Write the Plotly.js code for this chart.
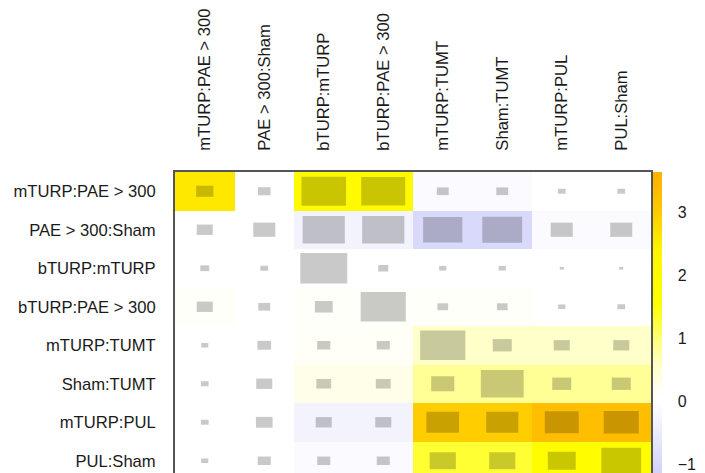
<!DOCTYPE html>
<html>
<head>
<meta charset="utf-8">
<script src="https://cdn.plot.ly/plotly-3.0.1.min.js"></script>
<style>html,body{margin:0;padding:0;background:#fff;}#chart{width:705px;height:473px;}</style>
</head>
<body>
<div id="chart"></div>
<script>
// Row and column labels (same comparisons)
const rowLabels = ["mTURP:PAE > 300", "PAE > 300:Sham", "bTURP:mTURP", "bTURP:PAE > 300",
                   "mTURP:TUMT", "Sham:TUMT", "mTURP:PUL", "PUL:Sham"];
const colLabels = ["mTURP:PAE > 300", "PAE > 300:Sham", "bTURP:mTURP", "bTURP:PAE > 300",
                   "mTURP:TUMT", "Sham:TUMT", "mTURP:PUL", "PUL:Sham"];

// Cell values (colour)
const values = [
  [2.6, 0, 2.0, 2.0, -0.12, -0.12, 0, 0],
  [0, 0, -0.3, -0.3, -0.95, -0.95, -0.1, -0.1],
  [0, 0, 0, 0, 0, 0, 0, 0],
  [0.1, 0, 0.1, 0.1, 0.1, 0.1, 0, 0],
  [0, 0, 0.15, 0.15, 0.55, 0.55, 0.55, 0.55],
  [0, 0, 0.3, 0.3, 0.85, 0.85, 0.85, 0.85],
  [0, 0, -0.3, -0.3, 3.0, 3.0, 3.3, 3.3],
  [0, 0, -0.12, -0.12, 1.3, 1.3, 1.8, 1.8]
];

// Relative size of the grey box inside each cell (fraction of cell)
const boxSize = [
  [0.29, 0.21, 0.75, 0.74, 0.20, 0.20, 0.13, 0.13],
  [0.27, 0.37, 0.71, 0.71, 0.66, 0.67, 0.37, 0.37],
  [0.15, 0.13, 0.79, 0.17, 0.12, 0.12, 0.07, 0.07],
  [0.27, 0.20, 0.30, 0.76, 0.18, 0.18, 0.12, 0.13],
  [0.12, 0.23, 0.22, 0.22, 0.76, 0.32, 0.27, 0.27],
  [0.13, 0.27, 0.25, 0.25, 0.39, 0.72, 0.32, 0.32],
  [0.13, 0.28, 0.27, 0.27, 0.55, 0.54, 0.57, 0.59],
  [0.12, 0.22, 0.22, 0.22, 0.44, 0.44, 0.47, 0.67]
];

const zmin = -1.25, zmax = 3.65;
const stops = [
  [-1.25, "rgb(205,205,250)"],
  [0.0, "rgb(255,255,255)"],
  [0.2, "rgb(255,255,245)"],
  [0.6, "rgb(255,255,195)"],
  [0.9, "rgb(255,255,140)"],
  [1.4, "rgb(255,255,30)"],
  [1.6, "rgb(255,255,0)"],
  [2.4, "rgb(255,245,0)"],
  [3.0, "rgb(255,205,0)"],
  [3.3, "rgb(255,190,0)"],
  [3.65, "rgb(255,178,0)"]
];
const colorscale = stops.map(s => [(s[0] - zmin) / (zmax - zmin), s[1]]);

const xs = colLabels.map((_, i) => i);
const ys = rowLabels.map((_, i) => i);

const heat = {
  type: "heatmap",
  x: xs, y: ys, z: values,
  zmin: zmin, zmax: zmax,
  colorscale: colorscale,
  hoverinfo: "skip",
  colorbar: {
    thickness: 9, thicknessmode: "pixels",
    len: 308, lenmode: "pixels",
    x: 1.0042, xanchor: "left", xpad: 0,
    y: 1, yanchor: "top", ypad: 0,
    outlinewidth: 0,
    tickvals: [-1, 0, 1, 2, 3],
    ticks: "outside", ticklen: 13, tickcolor: "rgba(0,0,0,0)",
    tickfont: {family: "Liberation Sans, Arial, sans-serif", size: 16, color: "#1a1a1a"}
  }
};

const shapes = [];
for (let r = 0; r < rowLabels.length; r++) {
  for (let c = 0; c < colLabels.length; c++) {
    const s = boxSize[r][c] / 2;
    shapes.push({
      type: "rect", xref: "x", yref: "y",
      x0: c - s, x1: c + s, y0: r - s, y1: r + s,
      fillcolor: "rgba(0,0,0,0.21)", line: {width: 0}, layer: "above"
    });
  }
}

const font = {family: "Liberation Sans, Arial, sans-serif", size: 16.6, color: "#1a1a1a"};
const layout = {
  width: 705, height: 473,
  margin: {l: 175, r: 54, t: 172, b: 0, pad: 0},
  paper_bgcolor: "#ffffff", plot_bgcolor: "#ffffff",
  font: font,
  xaxis: {
    side: "top", range: [-0.5, 7.5],
    tickvals: xs, ticktext: colLabels, tickangle: -90,
    ticks: "outside", ticklen: 16, tickcolor: "rgba(0,0,0,0)",
    showgrid: false, zeroline: false,
    showline: true, linecolor: "#555555", linewidth: 2,
    tickfont: font, fixedrange: true
  },
  yaxis: {
    range: [7.318, -0.5],
    tickvals: ys, ticktext: rowLabels,
    ticks: "outside", ticklen: 14, tickcolor: "rgba(0,0,0,0)",
    showgrid: false, zeroline: false,
    showline: true, mirror: true, linecolor: "#555555", linewidth: 2,
    tickfont: font, fixedrange: true
  },
  shapes: shapes,
  showlegend: false
};

Plotly.newPlot("chart", [heat], layout, {displayModeBar: false, staticPlot: true});
</script>
</body>
</html>
